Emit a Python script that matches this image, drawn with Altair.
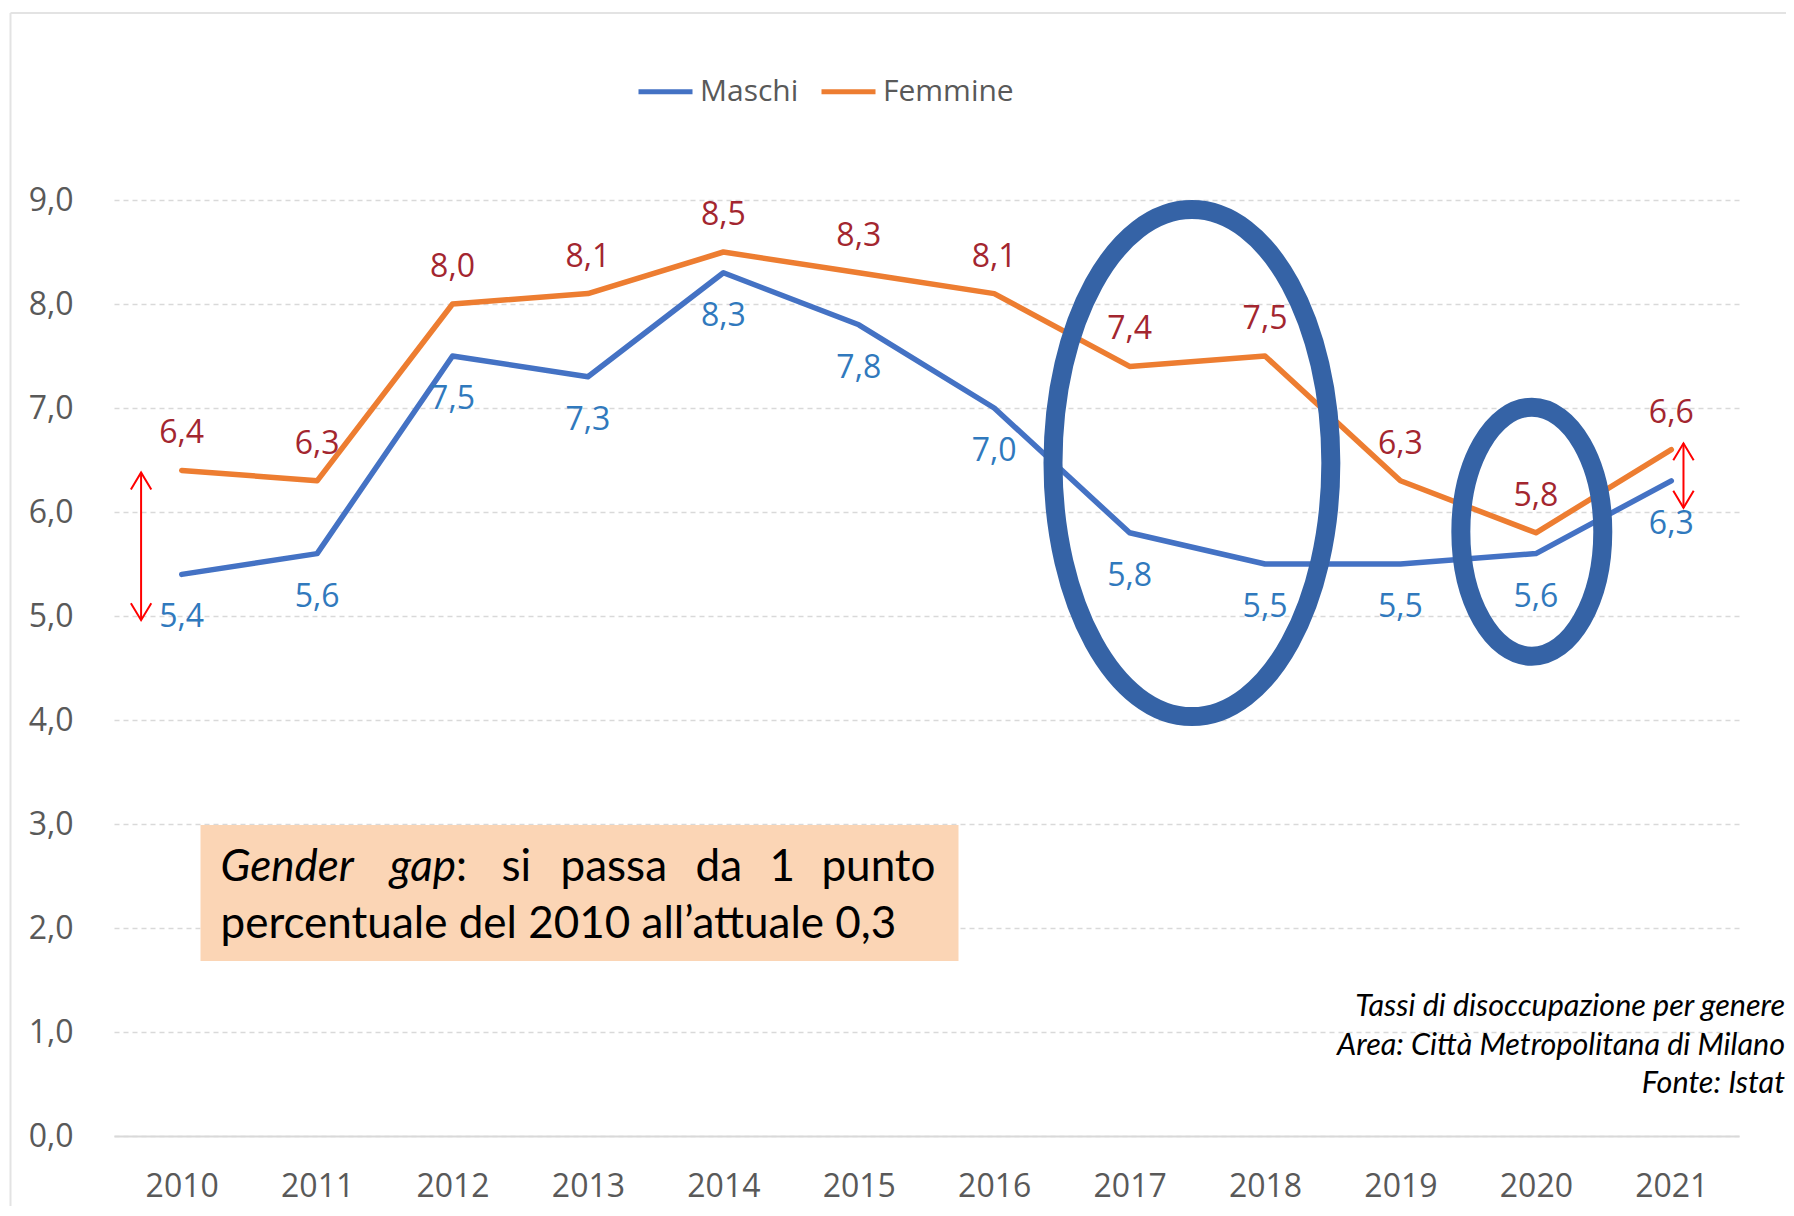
import altair as alt
import pandas as pd

# ---- data ----
anni = [2010, 2011, 2012, 2013, 2014, 2015, 2016, 2017, 2018, 2019, 2020, 2021]
maschi = [5.4, 5.6, 7.5, 7.3, 8.3, 7.8, 7.0, 5.8, 5.5, 5.5, 5.6, 6.3]
femmine = [6.4, 6.3, 8.0, 8.1, 8.5, 8.3, 8.1, 7.4, 7.5, 6.3, 5.8, 6.6]
serie = ["Maschi", "Femmine"]
y_ticks = [0, 1, 2, 3, 4, 5, 6, 7, 8, 9]

# annotation anchors (data space)
ellisse_grande = {"anno": [2017.46], "valore": [6.47]}
ellisse_piccola = {"anno": [2019.97], "valore": [5.81]}
frecce_anno = [2009.70, 2021.09]
frecce_alto = [6.38, 6.66]
frecce_basso = [4.96, 6.04]

note = ["Tassi di disoccupazione per genere",
        "Area: Città Metropolitana di Milano",
        "Fonte: Istat"]

df = pd.DataFrame({
    "anno": anni * 2,
    "valore": maschi + femmine,
    "genere": ["Maschi"] * len(anni) + ["Femmine"] * len(anni),
})
df["etichetta"] = df["valore"].map(lambda v: f"{v:.1f}".replace(".", ","))

W, H = 1625, 936
GRID = "#D9D9D9"
LAB = "#595959"
BLU = "#4472C4"
ARANCIO = "#ED7D31"
ELL = "#3563A6"

xscale = alt.Scale(domain=[2009.5, 2021.5], nice=False, zero=False)
yscale = alt.Scale(domain=[0, 9], nice=False, zero=True)

xaxis = alt.Axis(values=anni, format="d", labelFont="Open Sans", labelFontSize=32,
                 labelColor=LAB, labelPadding=35, ticks=False, grid=False,
                 domain=True, domainColor=GRID, domainWidth=2, labelFlush=False)
yaxis = alt.Axis(values=y_ticks, labelExpr="replace(format(datum.value, '.1f'), '.', ',')",
                 labelFont="Open Sans", labelFontSize=32, labelColor=LAB, labelPadding=41,
                 ticks=False, domain=False, grid=True, gridColor=GRID,
                 gridDash=[5, 4], gridWidth=1.5)


def X(field):
    return alt.X(f"{field}:Q", scale=xscale, axis=xaxis, title=None)


def Y(field):
    return alt.Y(f"{field}:Q", scale=yscale, axis=yaxis, title=None)


base = alt.Chart(df)

linee = base.mark_line(strokeWidth=5.5, strokeJoin="round", strokeCap="round").encode(
    x=X("anno"), y=Y("valore"),
    color=alt.Color("genere:N", scale=alt.Scale(domain=serie, range=[BLU, ARANCIO]),
                    legend=alt.Legend(orient="none", legendX=522, legendY=-138,
                                      direction="horizontal", title=None,
                                      symbolType="stroke", symbolStrokeWidth=5,
                                      symbolSize=2916, labelFont="Open Sans",
                                      labelFontSize=30, labelColor=LAB,
                                      labelOffset=5, columnPadding=12)),
)

lab_f = base.transform_filter(alt.datum.genere == "Femmine").mark_text(
    font="Open Sans", fontSize=32, dy=-37, color="#A3262F", baseline="middle"
).encode(x=X("anno"), y=Y("valore"), text="etichetta:N")

lab_m = base.transform_filter(alt.datum.genere == "Maschi").mark_text(
    font="Open Sans", fontSize=32, dy=43, color="#3079BD", baseline="middle"
).encode(x=X("anno"), y=Y("valore"), text="etichetta:N")


def ellipse_path(a):
    k = 0.5523
    return (f"M {a} 0 C {a} {k} {a*k:.4f} 1 0 1 C {-a*k:.4f} 1 {-a} {k} {-a} 0 "
            f"C {-a} {-k} {-a*k:.4f} -1 0 -1 C {a*k:.4f} -1 {a} {-k} {a} 0 Z")


ell1 = alt.Chart(pd.DataFrame(ellisse_grande)).mark_point(
    shape=ellipse_path(0.548), size=507 ** 2, filled=False, color=ELL,
    strokeWidth=19, opacity=1
).encode(x=X("anno"), y=Y("valore"))

ell2 = alt.Chart(pd.DataFrame(ellisse_piccola)).mark_point(
    shape=ellipse_path(0.57), size=249 ** 2, filled=False, color=ELL,
    strokeWidth=19, opacity=1
).encode(x=X("anno"), y=Y("valore"))

frecce_df = pd.DataFrame({"anno": frecce_anno, "alto": frecce_alto, "basso": frecce_basso})
freccia_linea = alt.Chart(frecce_df).mark_rule(color="red", strokeWidth=2).encode(
    x=X("anno"), y=Y("alto"), y2="basso:Q")
punta_su = alt.Chart(frecce_df).mark_point(
    shape="M -0.6 1 L 0 0 L 0.6 1", size=1156, filled=False, color="red",
    strokeWidth=2, opacity=1).encode(x=X("anno"), y=Y("alto"))
punta_giu = alt.Chart(frecce_df).mark_point(
    shape="M -0.6 -1 L 0 0 L 0.6 -1", size=1156, filled=False, color="red",
    strokeWidth=2, opacity=1).encode(x=X("anno"), y=Y("basso"))

uno = pd.DataFrame({"k": [0]})

box = alt.Chart(uno).mark_rect(color="#FBD5B5").encode(
    x=alt.value(86.5), x2=alt.value(844.5), y=alt.value(625), y2=alt.value(761))


def testo(t, x, y, align="left", italic=False, size=44, font="Lato"):
    return alt.Chart(uno).mark_text(
        text=t, align=align, baseline="alphabetic", font=font, fontSize=size,
        fontStyle="italic" if italic else "normal", color="#000000"
    ).encode(x=alt.value(x), y=alt.value(y))


parole = [
    testo("Gender", 106.5, 681, italic=True),
    testo("gap", 342, 681, align="right", italic=True),
    testo(":", 342, 681),
    testo("si", 387.5, 681),
    testo("passa", 446.5, 681),
    testo("da", 581.5, 681),
    testo("1", 655.5, 681),
    testo("punto", 821.5, 681, align="right"),
    testo("percentuale del 2010 all\u2019attuale 0,3", 106.5, 738),
]

righe_note = [testo(t, 1671, yy, align="right", italic=True, size=30.5)
              for t, yy in zip(note, [816, 855, 893])]

bordo = alt.Chart(uno).mark_rule(color="#E3E3E3", strokeWidth=2).encode(
    x=alt.value(-103.5), x2=alt.value(1680), y=alt.value(-187))
bordo_sx = alt.Chart(uno).mark_rule(color="#E3E3E3", strokeWidth=2).encode(
    x=alt.value(-103.5), y=alt.value(-187), y2=alt.value(1010))

chart = alt.layer(
    bordo, bordo_sx, linee, lab_f, lab_m, ell1, ell2, freccia_linea, punta_su, punta_giu,
    box, *parole, *righe_note
).properties(
    width=W, height=H,
    padding={"left": 106, "top": 192, "right": 47, "bottom": 70},
    autosize=alt.AutoSizeParams(type="none"),
).configure_view(stroke=None)

chart.save("out.html", embed_options={"renderer": "svg", "actions": False})
